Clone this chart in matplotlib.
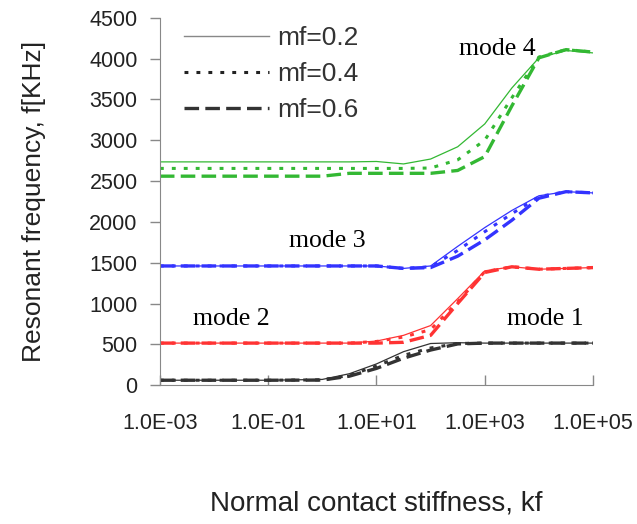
import numpy as np
import matplotlib
matplotlib.use("Agg")
import matplotlib.pyplot as plt
from matplotlib.lines import Line2D

plt.rcParams['font.family'] = ['Liberation Sans', 'DejaVu Sans']
plt.rcParams['lines.scale_dashes'] = False

# stiffness kf (log10 of the sample points)
log_kf = [-3, -2, -1, 0, 0.5, 1, 1.5, 2, 2.5, 3, 3.5, 4, 4.5, 5]

# resonant frequency [KHz] per mode, mf = 0.2 / 0.4 / 0.6
mode1_02 = [60, 60, 60, 70, 140, 260, 410, 510, 520, 515, 515, 515, 515, 515]
mode1_04 = [60, 60, 60, 65, 120, 235, 365, 455, 510, 515, 515, 515, 515, 515]
mode1_06 = [60, 60, 60, 62, 110, 205, 330, 430, 505, 515, 515, 515, 515, 515]

mode2_02 = [515, 515, 515, 515, 515, 540, 610, 730, 1060, 1400, 1450, 1420, 1430, 1440]
mode2_04 = [515, 515, 515, 515, 515, 535, 590, 680, 1020, 1390, 1450, 1420, 1430, 1440]
mode2_06 = [515, 515, 515, 515, 515, 515, 525, 610, 1000, 1380, 1450, 1420, 1430, 1440]

mode3_02 = [1460, 1460, 1460, 1460, 1460, 1460, 1430, 1460, 1700, 1930, 2140, 2320, 2370, 2355]
mode3_04 = [1460, 1460, 1460, 1460, 1460, 1460, 1430, 1450, 1650, 1880, 2100, 2310, 2370, 2355]
mode3_06 = [1460, 1460, 1460, 1460, 1460, 1460, 1430, 1440, 1580, 1780, 2020, 2290, 2370, 2355]

mode4_02 = [2735, 2735, 2735, 2735, 2735, 2740, 2710, 2770, 2920, 3200, 3640, 4010, 4100, 4070]
mode4_04 = [2655, 2655, 2655, 2655, 2655, 2655, 2655, 2660, 2760, 3000, 3520, 4020, 4110, 4080]
mode4_06 = [2560, 2560, 2560, 2560, 2595, 2595, 2595, 2595, 2630, 2800, 3420, 4010, 4110, 4080]

xtick_vals = [1e-3, 1e-1, 1e1, 1e3, 1e5]
xtick_labels = ['1.0E-03', '1.0E-01', '1.0E+01', '1.0E+03', '1.0E+05']

kf = 10.0 ** np.array(log_kf)

fig = plt.figure(figsize=(6.37, 5.24), dpi=100)
ax = fig.add_axes([0.251, 0.265, 0.680, 0.701])

modes = [
    ('#333333', mode1_02, mode1_04, mode1_06),
    ('#ff3333', mode2_02, mode2_04, mode2_06),
    ('#3333ff', mode3_02, mode3_04, mode3_06),
    ('#33b833', mode4_02, mode4_04, mode4_06),
]
for color, s02, s04, s06 in modes:
    ax.plot(kf, s02, color=color, lw=0.9)
    ax.plot(kf, s04, color=color, lw=2.2, dashes=(2.8, 5.8))
    ax.plot(kf, s06, color=color, lw=2.4, dashes=(10.5, 4.5))

ax.set_xscale('log')
ax.set_xlim(1e-3, 1e5)
ax.set_ylim(0, 4500)
ax.set_yticks(np.arange(0, 4501, 500))
ax.set_xticks(xtick_vals)
ax.set_xticklabels(xtick_labels)
ax.minorticks_off()
ax.tick_params(axis='y', direction='out', length=7, width=1, color='#888888',
               labelsize=15.5, pad=9, labelcolor='#222222')
ax.tick_params(axis='x', direction='in', length=7, width=1, color='#888888',
               labelsize=15.5, pad=20, labelcolor='#222222')
for side in ['top', 'right']:
    ax.spines[side].set_visible(False)
for side in ['left', 'bottom']:
    ax.spines[side].set_color('#888888')

ax.set_ylabel('Resonant frequency, f[KHz]', fontsize=19, color='#222222', labelpad=31)
ax.set_xlabel('Normal contact stiffness, kf', fontsize=20, color='#222222', labelpad=41)

serif = ['Liberation Serif', 'DejaVu Serif']
ax.text(10 ** 2.53, 4046, 'mode 4', family=serif, fontsize=18.5, va='baseline')
ax.text(10 ** -0.62, 1695, 'mode 3', family=serif, fontsize=18.5, va='baseline')
ax.text(10 ** -2.39, 736, 'mode 2', family=serif, fontsize=18.5, va='baseline')
ax.text(10 ** 3.41, 736, 'mode 1', family=serif, fontsize=18.5, va='baseline')

handles = [
    Line2D([], [], color='#888888', lw=1.0),
    Line2D([], [], color='#222222', lw=2.2, dashes=(2.8, 5.8)),
    Line2D([], [], color='#333333', lw=2.4, dashes=(10.5, 4.5)),
]
ax.legend(handles, ['mf=0.2', 'mf=0.4', 'mf=0.6'], loc='upper left',
          bbox_to_anchor=(0.02, 1.02), frameon=False, fontsize=19,
          handlelength=3.2, handletextpad=0.3, labelspacing=0.45,
          labelcolor='#333333', borderaxespad=0.2)

fig.savefig('out.png', dpi=100)
